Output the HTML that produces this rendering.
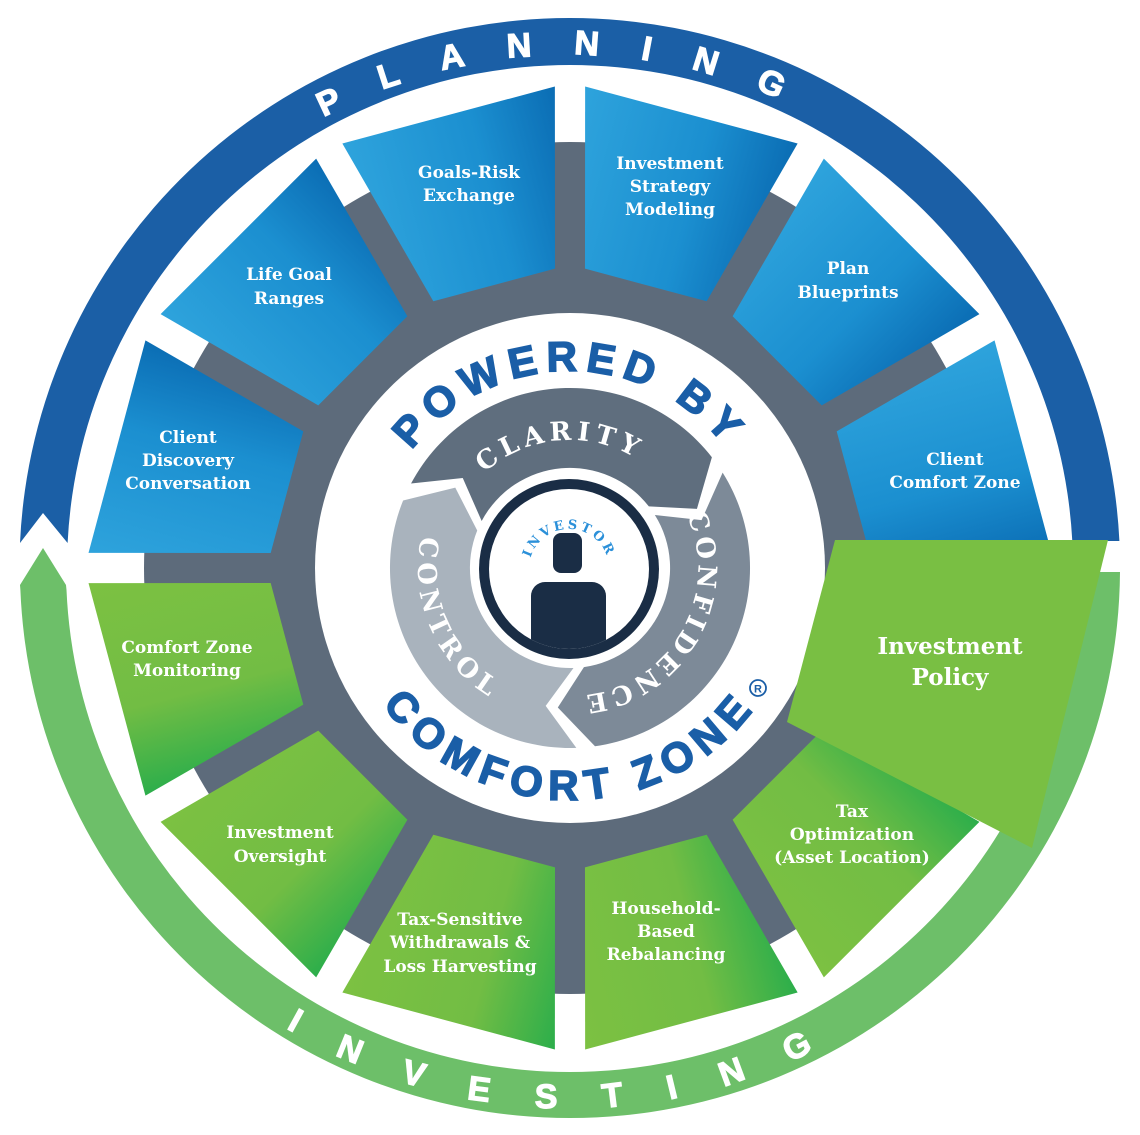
<!DOCTYPE html>
<html><head><meta charset="utf-8"><style>
html,body{margin:0;padding:0;background:#fff;}
svg{display:block;}
.t{font-family:"DejaVu Serif","Liberation Serif",serif;font-weight:bold;fill:#fff;font-size:17px;text-anchor:middle;}
.ring{font-family:"Liberation Sans",sans-serif;font-weight:bold;fill:#fff;font-size:34px;stroke:#fff;stroke-width:1.2;}
.pw{font-family:"Liberation Sans",sans-serif;font-weight:900;fill:#1a5ea7;font-size:42px;stroke:#1a5ea7;stroke-width:1.6;}
.cl{font-family:"DejaVu Serif","Liberation Serif",serif;font-weight:bold;fill:#fff;font-size:26px;}
</style></head><body>
<svg width="1140" height="1135" viewBox="0 0 1140 1135" xmlns="http://www.w3.org/2000/svg">
<defs>
<linearGradient id="gb" x1="0" y1="0" x2="1" y2="0"><stop offset="0" stop-color="#2ea3dc"/><stop offset="0.6" stop-color="#1b8fd0"/><stop offset="1" stop-color="#0b6db4"/></linearGradient>
<linearGradient id="gg" x1="0" y1="0" x2="1" y2="0"><stop offset="0" stop-color="#2cae4b"/><stop offset="0.4" stop-color="#72bd44"/><stop offset="1" stop-color="#7cc142"/></linearGradient>
<path id="cw513" d="M570,1081 A513,513 0 1 1 570,55 A513,513 0 1 1 570,1081"/>
<path id="ccw540" d="M570,28 A540,540 0 1 0 570,1108 A540,540 0 1 0 570,28"/>
<path id="cw197" d="M570,765 A197,197 0 1 1 570,371 A197,197 0 1 1 570,765"/>
<path id="ccw232" d="M570,336 A232,232 0 1 0 570,800 A232,232 0 1 0 570,336"/>
<path id="cw128" d="M570,696 A128,128 0 1 1 570,440 A128,128 0 1 1 570,696"/>
<path id="ccw152" d="M570,416 A152,152 0 1 0 570,720 A152,152 0 1 0 570,416"/>
<path id="cw40" d="M569,609 A40,40 0 1 1 569,529 A40,40 0 1 1 569,609"/>
<path id="seg" d="M-151,-98 A180,180 0 0 1 151,-98 L131.6,-47.9 L83.9,-54.5 A100,100 0 0 0 -83.9,-54.5 L-99,-99 Z"/>
<polygon id="tile" points="-110,-469 110,-469 63,-293 -63,-293"/>
<clipPath id="inner"><circle cx="569" cy="569" r="80"/></clipPath>
</defs>

<!-- outer rings -->
<path d="M20,543 A550,550 0 0 1 570,18 A550,550 0 0 1 1119.4,541 L1072.3,541 A503,503 0 0 0 570,65 A503,503 0 0 0 67.6,543 L43,513 Z" fill="#1b5fa6"/>
<path d="M1120,572 A550,550 0 0 1 570,1118 A550,550 0 0 1 20.4,590 L20,585 L43,548 L66,585 L66.5,590 A504,504 0 0 0 570,1072 A504,504 0 0 0 1074,572 Z" fill="#6dbf69"/>
<text class="ring" letter-spacing="42"><textPath href="#cw513" startOffset="50%" text-anchor="middle">PLANNING</textPath></text>
<text class="ring" letter-spacing="46"><textPath href="#ccw540" startOffset="50%" text-anchor="middle">INVESTING</textPath></text>

<!-- gray ring -->
<circle cx="570" cy="568" r="426" fill="#5d6b7b"/>
<circle cx="570" cy="568" r="255" fill="#fff"/>

<!-- tiles -->
<g transform="translate(570,568)">
<use href="#tile" fill="url(#gb)" transform="rotate(-75)"/>
<use href="#tile" fill="url(#gb)" transform="rotate(-45)"/>
<use href="#tile" fill="url(#gb)" transform="rotate(-15)"/>
<use href="#tile" fill="url(#gb)" transform="rotate(15)"/>
<use href="#tile" fill="url(#gb)" transform="rotate(45)"/>
<use href="#tile" fill="url(#gb)" transform="rotate(75)"/>
<use href="#tile" fill="url(#gg)" transform="rotate(135)"/>
<use href="#tile" fill="url(#gg)" transform="rotate(165)"/>
<use href="#tile" fill="url(#gg)" transform="rotate(195)"/>
<use href="#tile" fill="url(#gg)" transform="rotate(225)"/>
<use href="#tile" fill="url(#gg)" transform="rotate(255)"/>
</g>
<polygon points="835,540 1108,540 1032,848 787,722" fill="#79bf43"/>

<!-- tile labels -->
<text class="t" x="469" y="178">Goals-Risk</text><text class="t" x="469" y="201">Exchange</text>
<text class="t" x="670" y="169">Investment</text><text class="t" x="670" y="192">Strategy</text><text class="t" x="670" y="215">Modeling</text>
<text class="t" x="848" y="274">Plan</text><text class="t" x="848" y="298">Blueprints</text>
<text class="t" x="955" y="465">Client</text><text class="t" x="955" y="488">Comfort Zone</text>
<text class="t" x="950" y="654" style="font-size:23px">Investment</text><text class="t" x="950" y="685" style="font-size:23px">Policy</text>
<text class="t" x="852" y="817">Tax</text><text class="t" x="852" y="840">Optimization</text><text class="t" x="852" y="863">(Asset Location)</text>
<text class="t" x="666" y="914">Household-</text><text class="t" x="666" y="937">Based</text><text class="t" x="666" y="960">Rebalancing</text>
<text class="t" x="460" y="925">Tax-Sensitive</text><text class="t" x="460" y="948">Withdrawals &amp;</text><text class="t" x="460" y="972">Loss Harvesting</text>
<text class="t" x="280" y="838">Investment</text><text class="t" x="280" y="862">Oversight</text>
<text class="t" x="187" y="653">Comfort Zone</text><text class="t" x="187" y="676">Monitoring</text>
<text class="t" x="188" y="443">Client</text><text class="t" x="188" y="466">Discovery</text><text class="t" x="188" y="489">Conversation</text>
<text class="t" x="289" y="280">Life Goal</text><text class="t" x="289" y="304">Ranges</text>

<!-- powered by -->
<text class="pw" letter-spacing="8"><textPath href="#cw197" startOffset="50%" text-anchor="middle">POWERED BY</textPath></text>
<text class="pw" letter-spacing="8"><textPath href="#ccw232" startOffset="50%" text-anchor="middle">COMFORT ZONE</textPath></text>
<circle cx="758" cy="688" r="8" fill="none" stroke="#1a5ea7" stroke-width="1.8"/>
<text x="758" y="692.5" font-family="Liberation Sans,sans-serif" font-size="11" font-weight="bold" fill="#1a5ea7" text-anchor="middle">R</text>

<!-- cycle segments -->
<g transform="translate(570,568)">
<use href="#seg" fill="#5f6e7e" transform="rotate(-5)"/>
<use href="#seg" fill="#7d8a98" transform="rotate(115)"/>
<use href="#seg" fill="#a9b3bd" transform="rotate(235)"/>
</g>
<g transform="rotate(-5 570 568)"><text class="cl" letter-spacing="5"><textPath href="#cw128" startOffset="50%" text-anchor="middle">CLARITY</textPath></text></g>
<g transform="rotate(120 570 568)"><text class="cl" letter-spacing="4"><textPath href="#cw128" startOffset="50%" text-anchor="middle">CONFIDENCE</textPath></text></g>
<g transform="rotate(66 570 568)"><text class="cl" letter-spacing="6"><textPath href="#ccw152" startOffset="50%" text-anchor="middle">CONTROL</textPath></text></g>

<!-- investor -->
<circle cx="569" cy="569" r="90" fill="#1a2d45"/>
<circle cx="569" cy="569" r="80" fill="#fff"/>
<g clip-path="url(#inner)" fill="#1a2d45">
<rect x="553" y="533" width="29" height="40" rx="8"/>
<rect x="531" y="582" width="75" height="110" rx="14"/>
</g>
<text font-family="DejaVu Serif,serif" font-weight="bold" font-size="13" fill="#2b90d9" letter-spacing="3"><textPath href="#cw40" startOffset="50%" text-anchor="middle">INVESTOR</textPath></text>
</svg>
</body></html>
